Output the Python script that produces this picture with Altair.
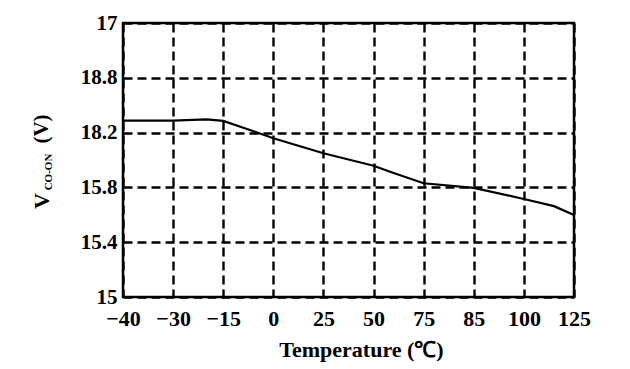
import altair as alt
import pandas as pd

# Data
temps = [-40, -30, -20, -15, -7, 0, 25, 50, 60, 75, 85, 100, 115, 125]
volts = [16.287, 16.288, 16.296, 16.285, 16.219, 16.159, 16.049, 15.958, 15.905,
         15.830, 15.797, 15.715, 15.663, 15.598]

x_ticks = [-40, -30, -15, 0, 25, 50, 75, 85, 100, 125]
y_ticks = [15, 15.4, 15.8, 16.2, 16.6, 17]
y_tick_labels = ["15", "15.4", "15.8", "18.2", "18.8", "17"]

W, H = 451, 274
FONT = "'Liberation Serif', 'Times New Roman', serif"

df = pd.DataFrame({"t": temps, "v": volts})

x_range = [i * W / (len(x_ticks) - 1) for i in range(len(x_ticks))]

label_expr = " : ".join(
    f"datum.value == {v} ? '{l}'" for v, l in zip(y_ticks, y_tick_labels)
) + " : datum.label"

x_enc = alt.X(
    "t:Q",
    scale=alt.Scale(domain=x_ticks, range=x_range),
    axis=alt.Axis(
        values=x_ticks, title="Temperature (℃)", grid=True, ticks=False,
        domain=False, labelPadding=11, titlePadding=10, titleX=238,
        labelFlush=False, labelOverlap=False, labelFontSize=22,
    ),
)
y_enc = alt.Y(
    "v:Q",
    scale=alt.Scale(domain=[15, 17], nice=False, zero=False),
    axis=alt.Axis(
        values=y_ticks, labelExpr=label_expr, title=None, grid=True,
        ticks=False, domain=False, labelPadding=6, labelFlush=False,
        labelOverlap=False, labelFontSize=21,
    ),
)

line = alt.Chart(df).mark_line(color="black", strokeWidth=2.2).encode(x=x_enc, y=y_enc)

tV = alt.Chart(pd.DataFrame({"txt": ["V"]})).mark_text(
    angle=270, font=FONT, fontSize=22, fontWeight="bold", color="black"
).encode(text="txt:N", x=alt.value(-81), y=alt.value(178))
tSub = alt.Chart(pd.DataFrame({"txt": ["CO-ON"]})).mark_text(
    angle=270, font=FONT, fontSize=11, fontWeight="bold", color="black"
).encode(text="txt:N", x=alt.value(-74), y=alt.value(149))
tUnit = alt.Chart(pd.DataFrame({"txt": ["(V)"]})).mark_text(
    angle=270, font=FONT, fontSize=21, fontWeight="bold", color="black"
).encode(text="txt:N", x=alt.value(-81), y=alt.value(106))

chart = (
    alt.layer(line, tV, tSub, tUnit)
    .properties(
        width=W, height=H,
        autosize=alt.AutoSizeParams(type="none"),
        padding={"left": 115, "top": 15, "right": 40, "bottom": 70},
    )
    .configure_view(stroke="black", strokeWidth=2.5)
    .configure_axis(
        gridColor="black", gridDash=[9, 5], gridWidth=2.4, gridOpacity=1,
        labelFont=FONT, labelFontWeight="bold", labelColor="black",
        titleFont=FONT, titleFontSize=22, titleFontWeight="bold", titleColor="black",
    )
)

chart.save("out.html", embed_options={"renderer": "svg", "actions": False})
